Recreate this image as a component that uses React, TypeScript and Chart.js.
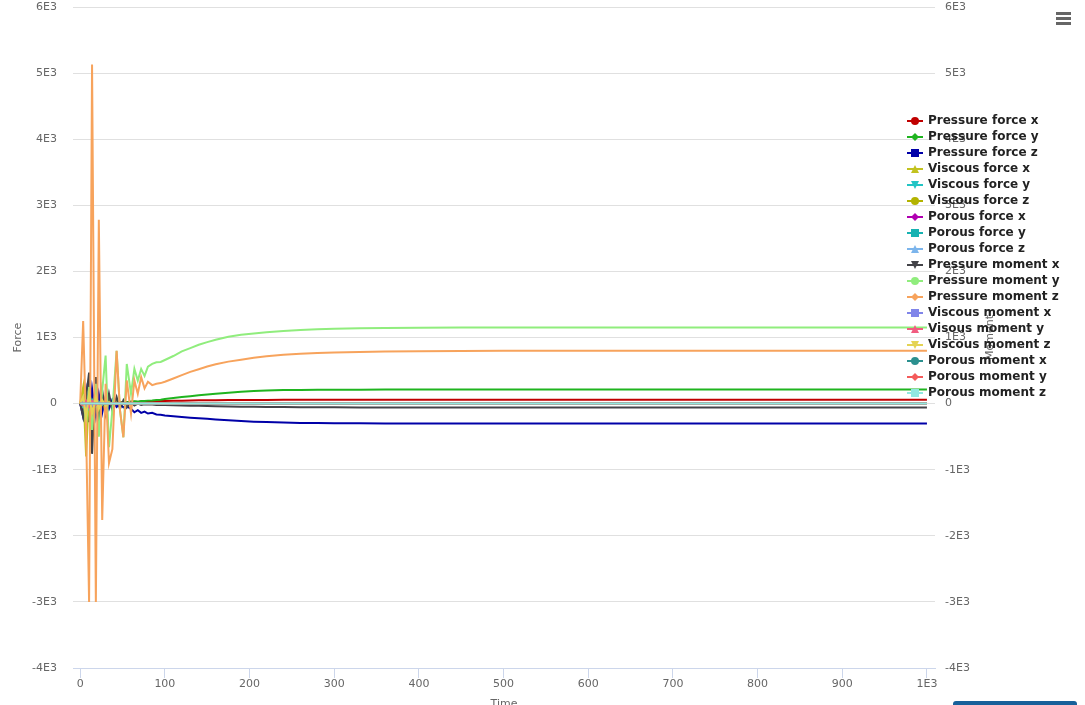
import React, { useEffect, useRef } from 'react';
import { Chart, registerables } from 'chart.js';

Chart.register(...registerables);

// Time axis samples
const time = [
  0, 3.5, 7, 10.5, 14, 18.5, 22, 26, 30, 34,
  38, 43, 47, 51, 55, 60, 64, 68, 72, 76,
  80, 85, 90, 95, 100, 110, 120, 130, 140, 150,
  160, 175, 190, 205, 220, 240, 260, 280, 300, 330,
  360, 400, 450, 500, 600, 700, 800, 900, 1000,
];

const pressureForceX = [
  0, -120, 90, -160, 120, -90, 70, -60, 40, -30,
  30, 10, 20, 15, 25, 20, 28, 25, 30, 30,
  33, 35, 37, 38, 40, 43, 45, 47, 49, 50,
  51, 53, 54, 55, 56, 57, 58, 58, 59, 59,
  60, 60, 60, 60, 60, 60, 60, 60, 60,
];
const pressureForceY = [
  0, 150, -120, 220, -180, 130, -110, 90, -60, 50,
  -20, 30, 10, 25, 20, 30, 35, 30, 40, 38,
  45, 48, 55, 60, 68, 85, 100, 113, 125, 138,
  150, 165, 180, 192, 199, 204, 207, 209, 210, 211,
  212, 212, 212, 212, 212, 212, 212, 212, 212,
];
const pressureForceZ = [
  0, -200, 180, -280, 230, -190, 150, -140, 100, -80,
  60, -50, -10, -56, -40, -80, -131, -100, -140, -120,
  -150, -140, -165, -170, -180, -192, -203, -213, -222, -231,
  -240, -252, -263, -273, -280, -287, -292, -295, -297, -299,
  -300, -300, -300, -300, -300, -300, -300, -300, -300,
];
const viscousForceX = [
  0, 250, -800, 200, -500, 150, -300, 100, -150, 60,
  -60, 30, -20, 10, -5, 0, 0, 0, 0, 0,
  0, 0, 0, 0, 0, 0, 0, 0, 0, 0,
  0, 0, 0, 0, 0, 0, 0, 0, 0, 0,
  0, 0, 0, 0, 0, 0, 0, 0, 0,
];
const viscousForceY = [
  0, -60, 50, -80, 60, -40, 30, -20, 10, -5,
  0, 0, 0, 0, 0, 0, 0, 0, 0, 0,
  0, 0, 0, 0, 0, 0, 0, 0, 0, 0,
  0, 0, 0, 0, 0, 0, 0, 0, 0, 0,
  0, 0, 0, 0, 0, 0, 0, 0, 0,
];
const viscousForceZ = [
  0, 80, -150, 100, -120, 80, -60, 40, -20, 10,
  0, 0, 0, 0, 0, 0, 0, 0, 0, 0,
  0, 0, 0, 0, 0, 0, 0, 0, 0, 0,
  0, 0, 0, 0, 0, 0, 0, 0, 0, 0,
  0, 0, 0, 0, 0, 0, 0, 0, 0,
];
const porousForceX = [
  0, 40, -30, 50, -40, 30, -20, 10, 0, 0,
  0, 0, 0, 0, 0, 0, 0, 0, 0, 0,
  0, 0, 0, 0, 0, 0, 0, 0, 0, 0,
  0, 0, 0, 0, 0, 0, 0, 0, 0, 0,
  0, 0, 0, 0, 0, 0, 0, 0, 0,
];
const porousForceY = [
  0, 0, 0, 0, 0, 0, 0, 0, 0, 0,
  0, 0, 0, 0, 0, 0, 0, 0, 0, 0,
  0, 0, 0, 0, 0, 0, 0, 0, 0, 0,
  0, 0, 0, 0, 0, 0, 0, 0, 0, 0,
  0, 0, 0, 0, 0, 0, 0, 0, 0,
];
const porousForceZ = [
  0, 0, 0, 0, 0, 0, 0, 0, 0, 0,
  0, 0, 0, 0, 0, 0, 0, 0, 0, 0,
  0, 0, 0, 0, 0, 0, 0, 0, 0, 0,
  0, 0, 0, 0, 0, 0, 0, 0, 0, 0,
  0, 0, 0, 0, 0, 0, 0, 0, 0,
];
const pressureMomentX = [
  0, -200, 100, 470, -760, 400, -400, 200, -150, 150,
  -100, 100, -80, 50, -60, 20, -30, 0, -20, -10,
  -15, -15, -20, -20, -22, -25, -28, -31, -34, -37,
  -40, -43, -46, -49, -51, -53, -55, -56, -57, -58,
  -59, -60, -60, -60, -60, -60, -60, -60, -60,
];
const pressureMomentY = [
  0, 100, -300, 250, -400, 300, -500, 200, 726, -660,
  -100, 800, -100, -510, 600, 150, 525, 348, 525, 420,
  560, 600, 625, 630, 660, 720, 790, 840, 890, 930,
  965, 1010, 1040, 1060, 1080, 1100, 1115, 1125, 1132, 1140,
  1145, 1148, 1150, 1150, 1150, 1150, 1150, 1150, 1150,
];
const pressureMomentZ = [
  0, 1250, -400, -3000, 5130, -3000, 2780, -1760, 300, -900,
  -690, 800, -100, -510, 350, -150, 350, 150, 400, 230,
  330, 280, 300, 310, 330, 380, 430, 480, 520, 560,
  595, 635, 665, 695, 715, 740, 755, 765, 772, 782,
  788, 793, 797, 799, 800, 801, 801, 801, 801,
];
const viscousMomentX = [
  0, 30, -40, 50, -30, 20, -10, 0, 0, 0,
  0, 0, 0, 0, 0, 0, 0, 0, 0, 0,
  0, 0, 0, 0, 0, 0, 0, 0, 0, 0,
  0, 0, 0, 0, 0, 0, 0, 0, 0, 0,
  0, 0, 0, 0, 0, 0, 0, 0, 0,
];
const viscousMomentY = [
  0, -30, 40, -50, 40, -20, 10, 0, 0, 0,
  0, 0, 0, 0, 0, 0, 0, 0, 0, 0,
  0, 0, 0, 0, 0, 0, 0, 0, 0, 0,
  0, 0, 0, 0, 0, 0, 0, 0, 0, 0,
  0, 0, 0, 0, 0, 0, 0, 0, 0,
];
const viscousMomentZ = [
  0, 100, -200, 150, -150, 100, -80, 50, -30, 20,
  0, 0, 0, 0, 0, 0, 0, 0, 0, 0,
  0, 0, 0, 0, 0, 0, 0, 0, 0, 0,
  0, 0, 0, 0, 0, 0, 0, 0, 0, 0,
  0, 0, 0, 0, 0, 0, 0, 0, 0,
];
const porousMomentX = [
  0, 0, 0, 0, 0, 0, 0, 0, 0, 0,
  0, 0, 0, 0, 0, 0, 0, 0, 0, 0,
  0, 0, 0, 0, 0, 0, 0, 0, 0, 0,
  0, 0, 0, 0, 0, 0, 0, 0, 0, 0,
  0, 0, 0, 0, 0, 0, 0, 0, 0,
];
const porousMomentY = [
  0, 0, 0, 0, 0, 0, 0, 0, 0, 0,
  0, 0, 0, 0, 0, 0, 0, 0, 0, 0,
  0, 0, 0, 0, 0, 0, 0, 0, 0, 0,
  0, 0, 0, 0, 0, 0, 0, 0, 0, 0,
  0, 0, 0, 0, 0, 0, 0, 0, 0,
];
const porousMomentZ = [
  0, 0, 0, 0, 0, 0, 0, 0, 0, 0,
  0, 0, 0, 0, 0, 0, 0, 0, 0, 0,
  0, 0, 0, 0, 0, 0, 0, 0, 0, 0,
  0, 0, 0, 0, 0, 0, 0, 0, 0, 0,
  0, 0, 0, 0, 0, 0, 0, 0, 0,
];

const seriesNames = [
  'Pressure force x', 'Pressure force y', 'Pressure force z',
  'Viscous force x', 'Viscous force y', 'Viscous force z',
  'Porous force x', 'Porous force y', 'Porous force z',
  'Pressure moment x', 'Pressure moment y', 'Pressure moment z',
  'Viscous moment x', 'Visous moment y', 'Viscous moment z',
  'Porous moment x', 'Porous moment y', 'Porous moment z',
];
const seriesValues = [
  pressureForceX, pressureForceY, pressureForceZ,
  viscousForceX, viscousForceY, viscousForceZ,
  porousForceX, porousForceY, porousForceZ,
  pressureMomentX, pressureMomentY, pressureMomentZ,
  viscousMomentX, viscousMomentY, viscousMomentZ,
  porousMomentX, porousMomentY, porousMomentZ,
];
const seriesColors = [
  '#c00000', '#1fb41f', '#0000a8',
  '#c2c21f', '#22c4c4', '#b3b300',
  '#b000b0', '#17b2b2', '#7cb5ec',
  '#434348', '#90ed7d', '#f7a35c',
  '#8085e9', '#f15c80', '#e4d354',
  '#2b908f', '#f45b5b', '#91e8e1',
];
const markerSymbols = ['circle', 'diamond', 'square', 'triangle', 'triangle-down'];

const xTickValues = [0, 100, 200, 300, 400, 500, 600, 700, 800, 900, 1000];
const yTickValues = [-4000, -3000, -2000, -1000, 0, 1000, 2000, 3000, 4000, 5000, 6000];

const xTitle = 'Time';
const yTitle = 'Force';
const y1Title = 'Moment';

const fmtX = (v: number) => (v === 1000 ? '1E3' : String(v));
const fmtY = (v: number) => (v === 0 ? '0' : `${v / 1000}E3`);

const FONT = '"DejaVu Sans", Verdana, sans-serif';

function drawMarker(ctx: CanvasRenderingContext2D, sym: string, x: number, y: number) {
  const r = 4;
  ctx.beginPath();
  if (sym === 'circle') {
    ctx.arc(x, y, r, 0, Math.PI * 2);
  } else if (sym === 'diamond') {
    ctx.moveTo(x, y - r);
    ctx.lineTo(x + r, y);
    ctx.lineTo(x, y + r);
    ctx.lineTo(x - r, y);
  } else if (sym === 'square') {
    ctx.rect(x - r, y - r, 2 * r, 2 * r);
  } else if (sym === 'triangle') {
    ctx.moveTo(x, y - r);
    ctx.lineTo(x + r, y + r);
    ctx.lineTo(x - r, y + r);
  } else {
    ctx.moveTo(x - r, y - r);
    ctx.lineTo(x + r, y - r);
    ctx.lineTo(x, y + r);
  }
  ctx.closePath();
  ctx.fill();
}

const overlayPlugin = {
  id: 'overlay',
  afterDraw(chart: any) {
    const ctx: CanvasRenderingContext2D = chart.ctx;
    const area = chart.chartArea;
    const midY = (area.top + area.bottom) / 2;
    ctx.save();
    ctx.fillStyle = '#666666';
    ctx.font = `11px ${FONT}`;
    ctx.textAlign = 'center';
    ctx.textBaseline = 'middle';
    ctx.save();
    ctx.translate(18, midY);
    ctx.rotate(-Math.PI / 2);
    ctx.fillText(yTitle, 0, 0);
    ctx.restore();
    ctx.save();
    ctx.translate(990, midY);
    ctx.rotate(-Math.PI / 2);
    ctx.fillText(y1Title, 0, 0);
    ctx.restore();
    ctx.fillText(xTitle, (area.left + area.right) / 2, 704);

    // legend
    ctx.textAlign = 'left';
    ctx.font = `bold 12px ${FONT}`;
    seriesNames.forEach((name, i) => {
      const y = 121 + i * 16;
      ctx.strokeStyle = seriesColors[i];
      ctx.lineWidth = 2;
      ctx.beginPath();
      ctx.moveTo(907, y);
      ctx.lineTo(923, y);
      ctx.stroke();
      ctx.fillStyle = seriesColors[i];
      drawMarker(ctx, markerSymbols[i % markerSymbols.length], 915, y);
      ctx.fillStyle = '#222222';
      ctx.fillText(name, 928, y);
    });

    // menu icon
    ctx.strokeStyle = '#666666';
    ctx.lineWidth = 3;
    [13.5, 18.5, 23.5].forEach((y) => {
      ctx.beginPath();
      ctx.moveTo(1056, y);
      ctx.lineTo(1071, y);
      ctx.stroke();
    });
    ctx.restore();
  },
};

export default function App() {
  const canvasRef = useRef<HTMLCanvasElement | null>(null);

  useEffect(() => {
    const canvas = canvasRef.current;
    if (!canvas) return;
    const n = seriesNames.length;
    const datasets = seriesNames.map((name, i) => ({
      label: name,
      data: time.map((t, j) => ({ x: t, y: seriesValues[i][j] })),
      borderColor: seriesColors[i],
      backgroundColor: seriesColors[i],
      borderWidth: 2,
      pointRadius: 0,
      tension: 0,
      fill: false,
      order: n - i,
    }));
    const tickFont = { family: FONT, size: 11 };
    const chart = new Chart(canvas, {
      type: 'line',
      data: { datasets },
      plugins: [overlayPlugin],
      options: {
        responsive: false,
        animation: false,
        events: [],
        devicePixelRatio: 1,
        layout: { padding: { top: 7, left: 0, right: 0, bottom: 0 } },
        plugins: {
          legend: { display: false },
          tooltip: { enabled: false },
        },
        scales: {
          x: {
            type: 'linear',
            min: -8.5,
            max: 1009.5,
            afterBuildTicks: (s: any) => {
              s.ticks = xTickValues.map((v) => ({ value: v }));
            },
            afterFit: (s: any) => {
              s.height = 37;
              s.paddingLeft = 0;
              s.paddingRight = 0;
            },
            grid: {
              drawOnChartArea: false,
              drawTicks: true,
              tickLength: 10,
              color: '#ccd6eb',
              lineWidth: 1,
            },
            border: { display: true, color: '#ccd6eb', width: 1 },
            ticks: {
              padding: 0,
              color: '#666666',
              font: tickFont,
              maxRotation: 0,
              autoSkip: false,
              callback: (v: any) => fmtX(Number(v)),
            },
          },
          y: {
            type: 'linear',
            position: 'left',
            min: -4000,
            max: 6000,
            afterBuildTicks: (s: any) => {
              s.ticks = yTickValues.map((v) => ({ value: v }));
            },
            afterFit: (s: any) => {
              s.width = 73;
              s.paddingTop = 0;
              s.paddingBottom = 0;
            },
            grid: { color: '#e0e0e0', drawTicks: false, lineWidth: 1 },
            border: { display: false },
            ticks: {
              padding: 16,
              color: '#666666',
              font: tickFont,
              callback: (v: any) => fmtY(Number(v)),
            },
          },
          y1: {
            type: 'linear',
            position: 'right',
            min: -4000,
            max: 6000,
            afterBuildTicks: (s: any) => {
              s.ticks = yTickValues.map((v) => ({ value: v }));
            },
            afterFit: (s: any) => {
              s.width = 150;
              s.paddingTop = 0;
              s.paddingBottom = 0;
            },
            grid: { drawOnChartArea: false, drawTicks: false },
            border: { display: false },
            ticks: {
              padding: 10,
              color: '#666666',
              font: tickFont,
              callback: (v: any) => fmtY(Number(v)),
            },
          },
        },
      } as any,
    });
    return () => chart.destroy();
  }, []);

  return (
    <div
      style={{
        position: 'absolute',
        left: 0,
        top: 0,
        width: 1085,
        height: 705,
        overflow: 'hidden',
        background: '#ffffff',
      }}
    >
      <canvas ref={canvasRef} width={1085} height={705} style={{ display: 'block' }} />
      <div
        style={{
          position: 'absolute',
          left: 953,
          top: 701,
          width: 124,
          height: 24,
          background: '#17609a',
          borderRadius: 3,
        }}
      />
    </div>
  );
}
